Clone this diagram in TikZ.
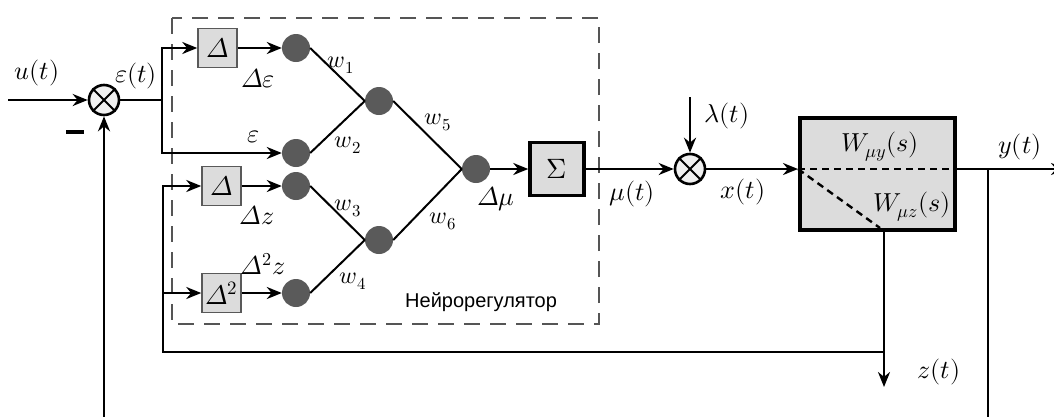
\documentclass[tikz,border=0pt]{standalone}
\usepackage{fontspec}
\usepackage{unicode-math}
\setmathfont{Latin Modern Math}
\newfontfamily\labelsans{Liberation Sans}
\usetikzlibrary{arrows.meta,calc}
\definecolor{neuroncol}{HTML}{5A5A5A}
\definecolor{boxfill}{HTML}{DCDCDC}
\definecolor{framegray}{HTML}{555555}
\newcommand{\dlt}{\symit{\Delta}}
\begin{document}
\begin{tikzpicture}[x=1pt,y=-1pt,
  sig/.style={line width=2.7pt,-{Stealth[length=15pt,width=12pt]}},
  wire/.style={line width=2.7pt},
  syn/.style={line width=2pt},
  neuron/.style={circle,fill=neuroncol,minimum size=28pt,inner sep=0pt},
  summer/.style={circle,draw,line width=2.6pt,fill=gray!12,minimum size=30pt,inner sep=0pt},
  dbox/.style={draw=gray!70!black,line width=1.5pt,fill=boxfill,minimum width=39pt,minimum height=39pt,inner sep=0pt,font=\fontsize{27}{30}\selectfont},
  sumbox/.style={draw,line width=3.5pt,fill=boxfill,minimum width=54pt,minimum height=53pt,inner sep=0pt,font=\fontsize{28}{32}\selectfont},
  plant/.style={draw,line width=4pt,fill=boxfill,minimum width=155pt,minimum height=112pt,inner sep=0pt},
  lbl/.style={inner sep=0pt,font=\fontsize{26}{30}\selectfont},
  wlbl/.style={inner sep=0pt,font=\fontsize{24}{28}\selectfont},
  inner/.style={line width=2.4pt,dash pattern=on 7pt off 5pt}
]
\clip (0,0) rectangle (1054,416);

% neuro-controller frame and its caption
\draw[framegray,line width=1.8pt,dash pattern=on 16pt off 10pt] (172,18) rectangle (599,324);
\node[font=\labelsans\fontsize{20}{24}\selectfont,fill=white,inner sep=1pt,anchor=west] (nrlab) at (404,302) {Нейрорегулятор};

% blocks
\node[summer] (s1) at (104,100) {};
\draw[line width=2pt] (s1.north west) -- (s1.south east) (s1.north east) -- (s1.south west);
\node[summer] (s2) at (690,169) {};
\draw[line width=2pt] (s2.north west) -- (s2.south east) (s2.north east) -- (s2.south west);

\node[dbox] (d1) at (217.5,48) {$\dlt$};
\node[dbox] (d2) at (221.5,186) {$\dlt$};
\node[dbox] (d3) at (221.5,293) {$\dlt^{2}$};

\node[neuron] (n1) at (296,48) {};
\node[neuron] (n2) at (296,153) {};
\node[neuron] (n3) at (296,186) {};
\node[neuron] (n4) at (296,293) {};
\node[neuron] (m1) at (379,101) {};
\node[neuron] (m2) at (379,240) {};
\node[neuron] (o)  at (476,169) {};

\node[sumbox] (sg) at (557,169) {$\Sigma$};
\node[plant] (pl) at (877.5,174) {};

% coordinates of free ends and branch points
\coordinate (uin) at (8,100);
\coordinate (j1) at (162,100);
\coordinate (lam) at (690,97);
\coordinate (jy) at (988,169);
\coordinate (yout) at (1066,169);
\coordinate (fb) at (988,440);
\coordinate (fbl) at (104,440);
\coordinate (zx) at (884,352);
\coordinate (zout) at (884,387);
\coordinate (zl) at (163,352);
\coordinate (pin) at (s2 -| pl.west);
\coordinate (pout) at (s2 -| pl.east);
\coordinate (pz) at (zx |- pl.south);

% error path
\draw[sig] (uin) -- (s1);
\draw[wire] (s1) -- (j1);
\draw[sig] (j1) |- (d1);
\draw[sig] (j1) |- (n2);
\draw[sig] (d1) -- (n1);
\draw[sig] (d2) -- (n3);
\draw[sig] (d3) -- (n4);

% network connections
\draw[syn] (n1.east) -- (m1.west);
\draw[syn] (n2.east) -- (m1.west);
\draw[syn] (n3.east) -- (m2.west);
\draw[syn] (n4.east) -- (m2.west);
\draw[syn] (m1.east) -- (o.west);
\draw[syn] (m2.east) -- (o.west);

% forward path
\draw[sig] (o) -- (sg);
\draw[sig] (sg) -- (s2);
\draw[sig] (lam) -- (s2);
\draw[sig] (s2) -- (pin);
\draw[inner] (pin) -- (pout);
\draw[inner] (pin) -- ($(pz)+(-4,-4)$);
\draw[sig] (pout) -- (yout);

% feedback paths
\draw[sig] (jy) -- (fb) -- (fbl) -- (s1);
\draw[sig] (pz) -- (zout);
\draw[sig] (zx) -- (zl) |- (d2);
\draw[sig] (zl |- d3) -- (d3);

% labels
\node[lbl] (lu) at (37,73) {$u(t)$};
\node[lbl] (le) at (136,76) {$\varepsilon(t)$};
\node[inner sep=0pt] (minus) at (75,132) {\rule{18pt}{3.5pt}};
\node[lbl] (lde) at (258,78) {$\dlt\varepsilon$};
\node[lbl] (leps) at (254,137) {$\varepsilon$};
\node[lbl] (ldz) at (257,215) {$\dlt z$};
\node[lbl] (ld2z) at (263,264) {$\dlt^{2}z$};
\node[wlbl] (lw1) at (341,65) {$w_1$};
\node[wlbl] (lw2) at (348,145) {$w_2$};
\node[wlbl] (lw3) at (348,208) {$w_3$};
\node[wlbl] (lw4) at (353,281) {$w_4$};
\node[wlbl] (lw5) at (438,122) {$w_5$};
\node[wlbl] (lw6) at (443,221) {$w_6$};
\node[lbl] (ldm) at (496,199) {$\dlt\mu$};
\node[lbl] (lmu) at (632,194) {$\mu(t)$};
\node[lbl] (llam) at (727,116) {$\lambda(t)$};
\node[lbl] (lx) at (743,192) {$x(t)$};
\node[lbl] (lwy) at (880,147) {$W_{\mu y}(s)$};
\node[lbl] (lwz) at (912,207) {$W_{\mu z}(s)$};
\node[lbl] (ly) at (1020,147) {$y(t)$};
\node[lbl] (lz) at (939,372) {$z(t)$};
\end{tikzpicture}
\end{document}
